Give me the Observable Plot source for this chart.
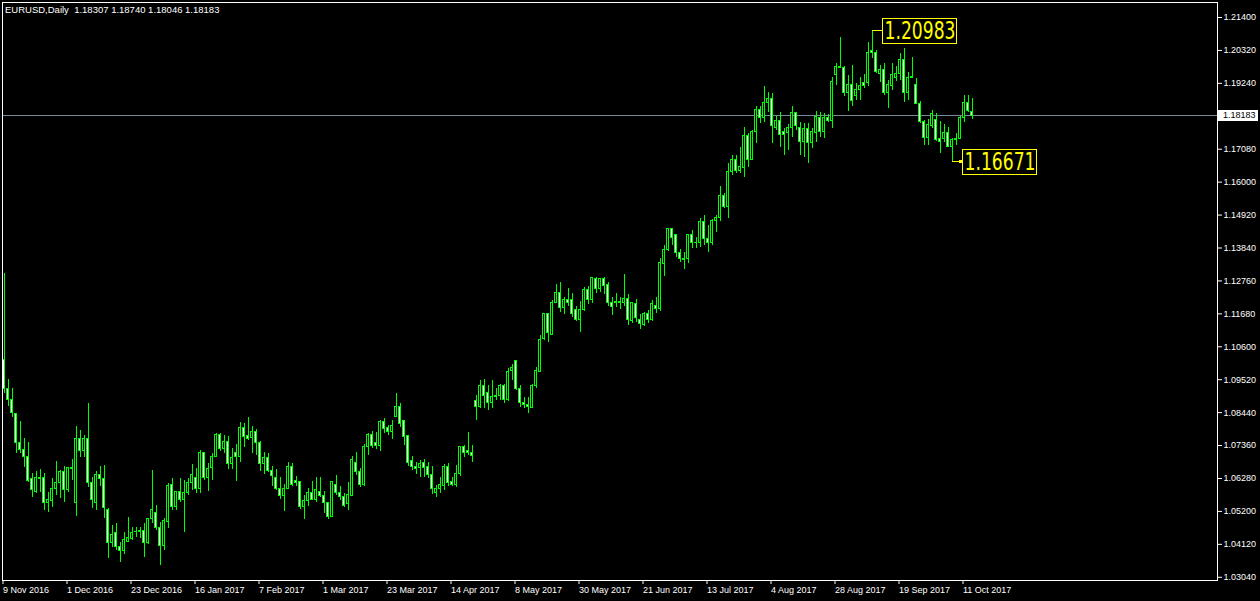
<!DOCTYPE html>
<html>
<head>
<meta charset="utf-8">
<script src="https://cdn.jsdelivr.net/npm/d3@7"></script>
<script src="https://cdn.jsdelivr.net/npm/@observablehq/plot@0.6"></script>
<style>
html, body { margin: 0; padding: 0; background: #000; overflow: hidden; }
#chart { width: 1260px; height: 601px; }
svg { display: block; }
</style>
</head>
<body>
<div id="chart"></div>
<script>
// ---------------- data ----------------
const symbolLabel = "EURUSD,Daily";

const opens = [
1.1015,1.0923,1.0887,1.0838,1.0746,1.0723,1.0700,1.0625,1.0585,1.0631,
1.0628,1.0549,1.0553,1.0595,1.0612,1.0648,1.0589,1.0664,1.0546,1.0759,
1.0717,1.0756,1.0612,1.0546,1.0641,1.0625,1.0526,1.0418,1.0448,1.0402,
1.0389,1.0421,1.0431,1.0451,1.0454,1.0457,1.0415,1.0494,1.0516,1.0467,
1.0408,1.0484,1.0605,1.0533,1.0585,1.0556,1.0582,1.0612,1.0631,1.0595,
1.0710,1.0631,1.0661,1.0700,1.0772,1.0726,1.0749,1.0677,1.0713,1.0700,
1.0795,1.0766,1.0762,1.0782,1.0746,1.0677,1.0694,1.0654,1.0631,1.0595,
1.0572,1.0592,1.0667,1.0621,1.0615,1.0533,1.0553,1.0579,1.0559,1.0585,
1.0569,1.0549,1.0503,1.0608,1.0579,1.0566,1.0543,1.0572,1.0680,1.0648,
1.0605,1.0730,1.0772,1.0743,1.0733,1.0812,1.0792,1.0779,1.0831,1.0864,
1.0815,1.0766,1.0684,1.0667,1.0664,1.0680,1.0667,1.0641,1.0579,1.0592,
1.0602,1.0667,1.0615,1.0605,1.0644,1.0730,1.0717,1.0713,1.0881,1.0861,
1.0930,1.0907,1.0874,1.0894,1.0900,1.0930,1.0887,1.0979,1.1012,1.0923,
1.0877,1.0868,1.0858,1.0930,1.0976,1.1084,1.1166,1.1097,1.1205,1.1238,
1.1186,1.1215,1.1212,1.1179,1.1149,1.1182,1.1245,1.1212,1.1281,1.1251,
1.1281,1.1261,1.1205,1.1202,1.1208,1.1205,1.1218,1.1146,1.1199,1.1149,
1.1133,1.1169,1.1149,1.1195,1.1185,1.1333,1.1379,1.1445,1.1425,1.1366,
1.1349,1.1349,1.1425,1.1402,1.1399,1.1468,1.1415,1.1399,1.1471,1.1481,
1.1556,1.1517,1.1632,1.1671,1.1635,1.1648,1.1750,1.1674,1.1763,1.1838,
1.1809,1.1858,1.1874,1.1776,1.1799,1.1763,1.1760,1.1776,1.1828,1.1779,
1.1733,1.1773,1.1727,1.1760,1.1812,1.1766,1.1812,1.1802,1.1950,1.1979,
1.1973,1.1894,1.1920,1.1881,1.1901,1.1924,1.1924,1.2029,1.2025,1.1956,
1.1969,1.1891,1.1914,1.1940,1.1956,1.1999,1.1894,1.1946,1.1917,1.1855,
1.1796,1.1746,1.1783,1.1805,1.1740,1.1740,1.1760,1.1714,1.1737,1.1743,
1.1812,1.1861,1.18307
];

const highs = [
1.1300,1.0953,1.0923,1.0841,1.0815,1.0759,1.0746,1.0644,1.0651,1.0658,
1.0644,1.0582,1.0628,1.0684,1.0654,1.0667,1.0664,1.0690,1.0799,1.0785,
1.0769,1.0874,1.0631,1.0651,1.0667,1.0671,1.0530,1.0474,1.0480,1.0418,
1.0451,1.0500,1.0467,1.0467,1.0467,1.0480,1.0497,1.0654,1.0540,1.0484,
1.0497,1.0612,1.0628,1.0566,1.0628,1.0621,1.0628,1.0674,1.0661,1.0720,
1.0713,1.0677,1.0710,1.0775,1.0775,1.0769,1.0766,1.0726,1.0740,1.0812,
1.0808,1.0828,1.0799,1.0789,1.0749,1.0713,1.0710,1.0667,1.0658,1.0631,
1.0608,1.0680,1.0677,1.0635,1.0615,1.0572,1.0595,1.0618,1.0631,1.0631,
1.0585,1.0549,1.0618,1.0638,1.0602,1.0579,1.0615,1.0700,1.0713,1.0661,
1.0740,1.0775,1.0782,1.0779,1.0818,1.0825,1.0802,1.0818,1.0907,1.0874,
1.0818,1.0769,1.0700,1.0680,1.0687,1.0690,1.0680,1.0667,1.0605,1.0631,
1.0674,1.0677,1.0631,1.0671,1.0733,1.0736,1.0779,1.0736,1.0900,1.0949,
1.0953,1.0933,1.0949,1.0923,1.0936,1.0936,1.0989,1.1002,1.1015,1.0933,
1.0894,1.0894,1.0936,1.0992,1.1097,1.1169,1.1169,1.1212,1.1264,1.1271,
1.1222,1.1251,1.1235,1.1192,1.1208,1.1254,1.1257,1.1287,1.1287,1.1284,
1.1287,1.1271,1.1222,1.1235,1.1222,1.1297,1.1231,1.1205,1.1215,1.1166,
1.1172,1.1179,1.1212,1.1222,1.1350,1.1392,1.1448,1.1448,1.1428,1.1379,
1.1369,1.1428,1.1441,1.1418,1.1481,1.1490,1.1458,1.1478,1.1490,1.1586,
1.1563,1.1661,1.1687,1.1687,1.1714,1.1779,1.1760,1.1769,1.1848,1.1848,
1.1914,1.1894,1.1891,1.1815,1.1828,1.1776,1.1789,1.1848,1.1828,1.1796,
1.1792,1.1792,1.1776,1.1832,1.1828,1.1825,1.1822,1.1943,1.1989,1.2074,
1.1979,1.1950,1.1983,1.1924,1.1943,1.1953,1.2058,1.20983,1.2032,1.1983,
1.1989,1.1933,1.1989,1.1979,1.2022,1.2038,1.1960,1.2009,1.1940,1.1865,
1.1802,1.1805,1.1835,1.1825,1.1799,1.1789,1.1779,1.1743,1.1760,1.1815,
1.1884,1.1884,1.18740
];

const lows = [
1.0907,1.0864,1.0828,1.0710,1.0710,1.0664,1.0615,1.0566,1.0579,1.0582,
1.0523,1.0516,1.0533,1.0572,1.0562,1.0549,1.0582,1.0621,1.0503,1.0697,
1.0697,1.0598,1.0530,1.0523,1.0602,1.0497,1.0366,1.0402,1.0392,1.0352,
1.0379,1.0421,1.0425,1.0434,1.0431,1.0369,1.0412,1.0480,1.0457,1.0343,
1.0392,1.0464,1.0523,1.0523,1.0549,1.0451,1.0572,1.0589,1.0579,1.0579,
1.0621,1.0585,1.0621,1.0700,1.0717,1.0710,1.0658,1.0658,1.0618,1.0680,
1.0730,1.0753,1.0710,1.0703,1.0651,1.0641,1.0648,1.0602,1.0589,1.0559,
1.0520,1.0592,1.0602,1.0602,1.0526,1.0494,1.0536,1.0556,1.0549,1.0566,
1.0513,1.0494,1.0500,1.0572,1.0556,1.0533,1.0523,1.0572,1.0638,1.0598,
1.0602,1.0703,1.0726,1.0723,1.0717,1.0775,1.0769,1.0756,1.0828,1.0795,
1.0736,1.0667,1.0654,1.0641,1.0631,1.0631,1.0628,1.0575,1.0566,1.0579,
1.0589,1.0602,1.0602,1.0598,1.0635,1.0697,1.0703,1.0680,1.0818,1.0858,
1.0858,1.0851,1.0858,1.0884,1.0884,1.0874,1.0881,1.0949,1.0917,1.0861,
1.0858,1.0841,1.0858,1.0923,1.0976,1.1081,1.1074,1.1097,1.1202,1.1172,
1.1166,1.1192,1.1156,1.1143,1.1107,1.1176,1.1199,1.1202,1.1235,1.1238,
1.1231,1.1192,1.1163,1.1189,1.1182,1.1192,1.1130,1.1136,1.1140,1.1117,
1.1126,1.1136,1.1143,1.1169,1.1176,1.1290,1.1372,1.1392,1.1353,1.1336,
1.1313,1.1333,1.1382,1.1382,1.1385,1.1392,1.1369,1.1392,1.1435,1.1471,
1.1514,1.1481,1.1622,1.1628,1.1628,1.1615,1.1648,1.1671,1.1727,1.1792,
1.1796,1.1828,1.1727,1.1769,1.1714,1.1687,1.1704,1.1746,1.1769,1.1687,
1.1681,1.1661,1.1710,1.1730,1.1746,1.1743,1.1796,1.1776,1.1917,1.1973,
1.1881,1.1832,1.1848,1.1868,1.1868,1.1907,1.1914,1.2006,1.1956,1.1927,
1.1884,1.1842,1.1901,1.1930,1.1933,1.1861,1.1868,1.1940,1.1855,1.1792,
1.1720,1.1720,1.1776,1.1733,1.1694,1.1730,1.1714,1.16671,1.1720,1.1740,
1.1796,1.1828,1.18046
];

const closes = [
1.0923,1.0887,1.0844,1.0743,1.0723,1.0697,1.0621,1.0589,1.0631,1.0625,
1.0549,1.0556,1.0592,1.0612,1.0648,1.0589,1.0661,1.0658,1.0759,1.0717,
1.0756,1.0612,1.0559,1.0641,1.0625,1.0530,1.0415,1.0441,1.0402,1.0389,
1.0425,1.0434,1.0448,1.0454,1.0457,1.0415,1.0494,1.0526,1.0467,1.0408,
1.0487,1.0602,1.0533,1.0585,1.0556,1.0582,1.0612,1.0638,1.0595,1.0710,
1.0631,1.0658,1.0697,1.0772,1.0726,1.0749,1.0677,1.0694,1.0700,1.0795,
1.0763,1.0756,1.0779,1.0746,1.0677,1.0694,1.0651,1.0635,1.0592,1.0572,
1.0592,1.0667,1.0605,1.0612,1.0533,1.0553,1.0579,1.0559,1.0589,1.0569,
1.0549,1.0503,1.0615,1.0579,1.0566,1.0539,1.0575,1.0687,1.0648,1.0605,
1.0730,1.0772,1.0736,1.0733,1.0812,1.0789,1.0779,1.0799,1.0864,1.0808,
1.0763,1.0680,1.0667,1.0658,1.0677,1.0664,1.0638,1.0592,1.0595,1.0605,
1.0667,1.0612,1.0608,1.0644,1.0730,1.0710,1.0710,1.0703,1.0861,1.0930,
1.0900,1.0874,1.0894,1.0900,1.0930,1.0887,1.0976,1.0992,1.0923,1.0877,
1.0868,1.0861,1.0930,1.0979,1.1081,1.1166,1.1104,1.1205,1.1238,1.1186,
1.1215,1.1205,1.1169,1.1149,1.1182,1.1245,1.1212,1.1284,1.1251,1.1281,
1.1258,1.1202,1.1192,1.1208,1.1202,1.1218,1.1149,1.1202,1.1153,1.1136,
1.1169,1.1149,1.1199,1.1185,1.1336,1.1379,1.1445,1.1418,1.1366,1.1349,
1.1346,1.1425,1.1402,1.1399,1.1468,1.1415,1.1399,1.1474,1.1481,1.1556,
1.1517,1.1632,1.1671,1.1635,1.1651,1.1750,1.1674,1.1763,1.1838,1.1809,
1.1858,1.1874,1.1783,1.1799,1.1753,1.1753,1.1776,1.1828,1.1783,1.1733,
1.1773,1.1727,1.1766,1.1815,1.1766,1.1812,1.1799,1.1927,1.1979,1.1973,
1.1894,1.1920,1.1865,1.1901,1.1914,1.1914,1.2022,1.2022,1.1960,1.1969,
1.1891,1.1917,1.1950,1.1956,1.1999,1.1894,1.1943,1.1943,1.1855,1.1796,
1.1746,1.1786,1.1822,1.1737,1.1733,1.1760,1.1714,1.1737,1.1743,1.1812,
1.1861,1.1832,1.18183
];

const dateLabels = ["9 Nov 2016","1 Dec 2016","23 Dec 2016","16 Jan 2017","7 Feb 2017","1 Mar 2017",
  "23 Mar 2017","14 Apr 2017","8 May 2017","30 May 2017","21 Jun 2017","13 Jul 2017","4 Aug 2017",
  "28 Aug 2017","19 Sep 2017","11 Oct 2017"];
const dateLabelBars = [0,16,32,48,64,80,96,112,128,144,160,176,192,208,224,240];

const priceTicks = [1.21400,1.20320,1.19240,1.17080,1.16000,1.14920,1.13840,1.12760,
  1.11680,1.10600,1.09520,1.08440,1.07360,1.06280,1.05200,1.04120,1.03040];

const annotations = [
  {bar: 217, price: 1.20983, dot: false},
  {bar: 237, price: 1.16671, dot: true}
];

// ---------------- layout / style ----------------
const W = 1260, H = 601;
const mL = 2, mR = 43, mT = 2, mB = 21;
const barPx = 4, firstBarOffset = 1.5;
const plotW = W - mL - mR;
const yDomain = [1.02934, 1.21892];
const pxPerPrice = (H - mT - mB) / (yDomain[1] - yDomain[0]);
const FONT = "'Liberation Sans', Arial, 'DejaVu Sans', sans-serif";
const NARROW = "'Liberation Sans Narrow', 'Arial Narrow', 'DejaVu Sans Condensed', sans-serif";
const LIME = "#00ff00", YELLOW = "#ffff00", BIDLINE = "#778899";

const bars = opens.map((o, i) => {
  const c = closes[i];
  return {i, o, c, h: Math.max(highs[i], o, c), l: Math.min(lows[i], o, c),
          top: Math.max(o, c), bot: Math.min(o, c), bear: c < o};
});
const last = bars[bars.length - 1];
const innerBars = bars.filter(d => (d.top - d.bot) * pxPerPrice >= 1.5);
const halfBody = 1.5 / barPx;

const plot = Plot.plot({
  width: W, height: H,
  marginLeft: mL, marginRight: mR, marginTop: mT, marginBottom: mB,
  style: {background: "#000", color: "#fff", fontFamily: FONT, fontSize: "9px", overflow: "visible"},
  x: {type: "linear", domain: [-firstBarOffset / barPx, (plotW - firstBarOffset) / barPx]},
  y: {type: "linear", domain: yDomain},
  marks: [
    Plot.ruleY([last.c], {stroke: BIDLINE, shapeRendering: "crispEdges"}),
    Plot.ruleX(bars, {x: "i", y1: "l", y2: "h", stroke: LIME, shapeRendering: "crispEdges"}),
    Plot.rect(bars, {x1: d => d.i - halfBody, x2: d => d.i + halfBody, y1: "bot", y2: "top",
      fill: LIME, insetTop: -0.5, insetBottom: -0.5, shapeRendering: "crispEdges"}),
    Plot.rect(innerBars.filter(d => d.bear), {x1: d => d.i - halfBody, x2: d => d.i + halfBody, y1: "bot", y2: "top",
      fill: "#ffffff", insetLeft: 1, insetRight: 1, insetTop: 0.5, insetBottom: 0.5, shapeRendering: "crispEdges"}),
    Plot.rect(innerBars.filter(d => !d.bear), {x1: d => d.i - halfBody, x2: d => d.i + halfBody, y1: "bot", y2: "top",
      fill: "#000000", insetLeft: 1, insetRight: 1, insetTop: 0.5, insetBottom: 0.5, shapeRendering: "crispEdges"}),
    Plot.frame({stroke: "#fff", shapeRendering: "crispEdges"}),
    Plot.axisY(priceTicks, {anchor: "right", tickSize: 4, tickPadding: 2, label: null,
      tickFormat: d => d.toFixed(5), stroke: "#fff", fill: "#fff", fontSize: 9}),
    Plot.axisX(dateLabelBars, {anchor: "bottom", tickSize: 4, tickPadding: 2, label: null,
      tickFormat: d => dateLabels[dateLabelBars.indexOf(d)], textAnchor: "start", dx: -1,
      stroke: "#fff", fill: "#fff", fontSize: 9})
  ]
});

document.getElementById("chart").appendChild(plot);

// ---------------- overlays positioned through the plot's scales ----------------
const svg = d3.select(plot);
const xS = plot.scale("x"), yS = plot.scale("y");

// header
svg.append("text")
  .attr("x", 5).attr("y", 10).attr("dy", "0.35em")
  .attr("text-anchor", "start")
  .attr("fill", "#fff").attr("font-size", 9.5)
  .attr("xml:space", "preserve")
  .style("white-space", "pre")
  .text(`${symbolLabel}  ${[last.o, last.h, last.l, last.c].map(v => v.toFixed(5)).join(" ")}`);

// last price tag on the price axis
const py = yS.apply(last.c);
const tag = svg.append("g");
tag.append("rect").attr("x", W - mR + 1).attr("y", Math.round(py) - 5.5)
  .attr("width", 40).attr("height", 11).attr("fill", "#fff").attr("shape-rendering", "crispEdges");
tag.append("text").attr("x", W - mR + 6).attr("y", py).attr("dy", "0.35em")
  .attr("text-anchor", "start")
  .attr("fill", "#000").attr("font-size", 9).text(last.c.toFixed(5));

// price annotations (high / low)
annotations.forEach(a => {
  const ax = xS.apply(a.bar), ay = Math.round(yS.apply(a.price)) + 0.5;
  const g = svg.append("g");
  g.append("line").attr("x1", ax).attr("x2", ax + 11).attr("y1", ay).attr("y2", ay)
    .attr("stroke", YELLOW).attr("shape-rendering", "crispEdges");
  if (a.dot) {
    g.append("rect").attr("x", ax + 7).attr("y", ay - 1.5).attr("width", 3).attr("height", 3)
      .attr("fill", YELLOW).attr("shape-rendering", "crispEdges");
  }
  g.append("text").attr("x", ax + 13).attr("y", ay).attr("dy", "0.36em")
    .attr("text-anchor", "start")
    .attr("fill", YELLOW).attr("font-size", 24).attr("font-family", NARROW)
    .attr("textLength", 71).attr("lengthAdjust", "spacingAndGlyphs")
    .text(a.price.toFixed(5));
  g.append("rect").attr("x", ax + 11).attr("y", ay - 12.5).attr("width", 74).attr("height", 25)
    .attr("fill", "none").attr("stroke", YELLOW).attr("shape-rendering", "crispEdges");
});
</script>
</body>
</html>
